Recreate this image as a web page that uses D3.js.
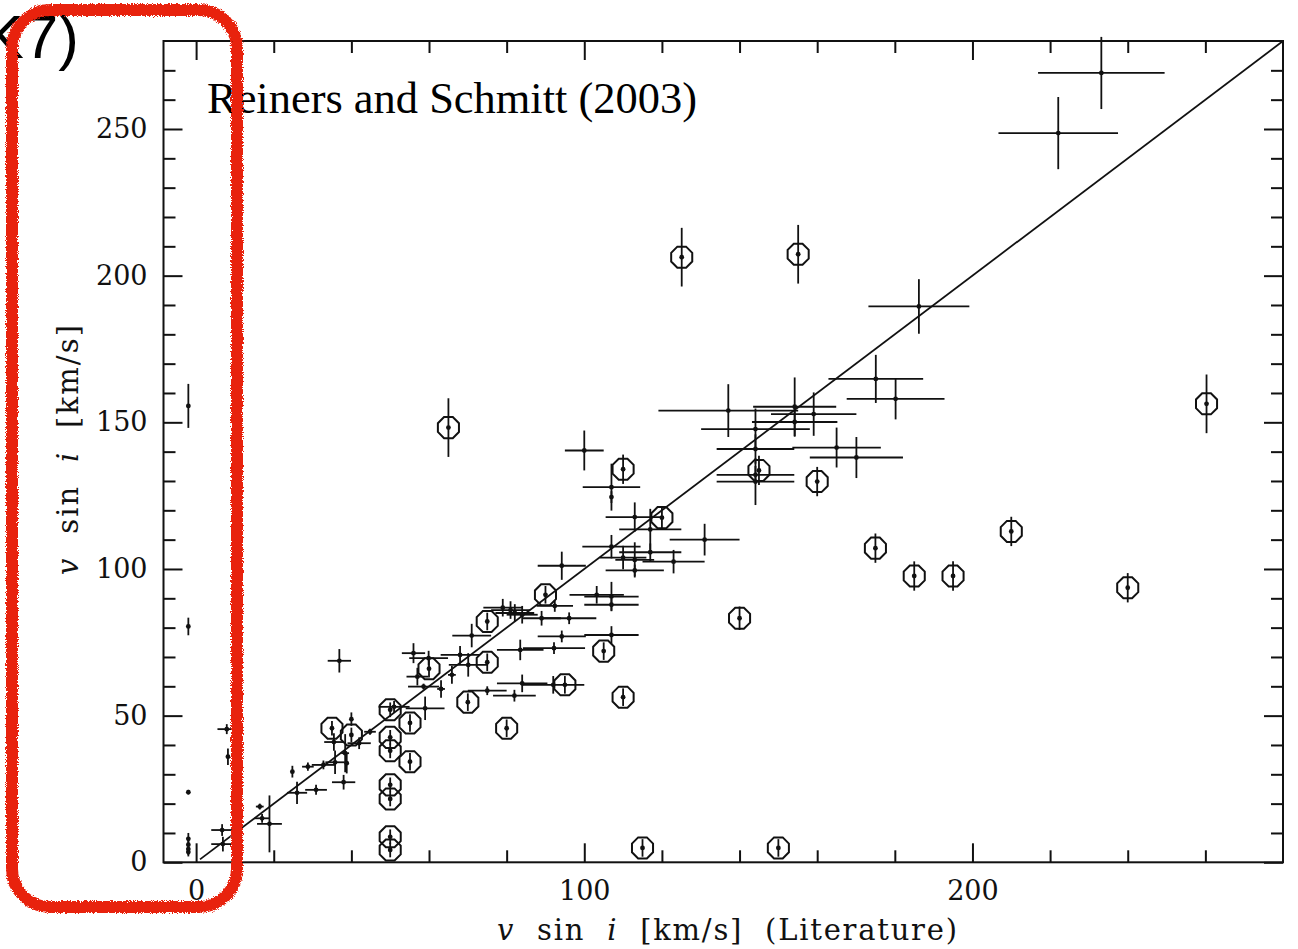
<!DOCTYPE html>
<html>
<head>
<meta charset="utf-8">
<script src="https://cdn.jsdelivr.net/npm/d3@7"></script>
<style>
  body { margin: 0; background: #fff; }
  svg { display: block; }
</style>
</head>
<body>
<div id="chart"></div>
<script>
// crosses: literature vsini (x), measured vsini (y) and their errors
var crossLit = [-2, -2, -2, -2, -2, -2, -2, 7.9, 8.2, 6.7, 6.9, 16.4, 17, 18.9,
  24.8, 26, 28.8, 30.9, 32.8, 35.8, 38, 38.4, 38.8, 40, 35.5, 42, 44.8, 36.9, 51,
  56, 59.9, 57, 58.6, 63.1, 59, 65.9, 68, 70.1, 71, 75, 82, 84, 83.5, 79, 81, 82.1, 84,
  89, 92.4, 94.2, 94.2, 92.2, 96.1, 92, 103.2, 107, 107, 107, 107, 107, 113, 117, 107,
  110, 113, 117, 123, 113, 100, 131, 137.1, 154.2, 159.1, 154.2, 144.1, 144.1, 144.1,
  144.1, 165, 170.1, 180.2, 175.1, 186.2, 233.2, 222.1];
var crossMeas = [155.6, 80.4, 23.9, 8, 6, 4.5, 3.5, 45.4, 36, 11, 6.2, 19, 15, 13.1,
  30.9, 23.7, 32.6, 24.7, 33.2, 34.1, 27.3, 37.2, 33.8, 48.8, 41, 40.6, 44.5, 68.7, 53,
  71.3, 69.6, 63.3, 59.9, 59.1, 52.5, 63.9, 70.7, 67.3, 77.3, 58.5, 56.8, 61, 72.4, 86.8, 86, 85, 84.4,
  83.2, 87.4, 101.1, 77, 73, 83.2, 60.5, 91.2, 90.6, 87.8, 77.5, 127.9, 124.5, 117.7, 113.5, 107.6,
  103.9, 103.1, 105.7, 102.5, 99.5, 140.4, 110, 154, 155.3, 152.8, 150.1, 147.7, 140.9, 129.8,
  132.1, 141.4, 138, 158, 164.8, 189.5, 269.1, 248.6];
var crossLitErr = [0.3, 0.3, 0.3, 0.3, 0.3, 0.3, 0.3, 2.4, 0.5, 2.8, 3, 1, 2, 3.2,
  0.3, 2.6, 1.5, 2.8, 3, 2.5, 3, 1, 0.5, 0.3, 2.5, 3, 1.5, 3, 4,
  3, 5, 2.8, 4, 1, 5, 1, 5, 5, 5, 5, 5.5, 6.5, 6, 5, 5, 5, 4,
  5, 4.7, 6.2, 6.2, 8, 7, 8, 7, 7, 7, 7, 7.4, 0.3, 7.5, 8, 7.5,
  6, 5, 8, 8, 7.5, 5, 9, 18, 10.7, 11, 11, 14, 10, 10,
  10, 11.4, 12, 12.6, 12.2, 13, 16.3, 15.4];
var crossMeasErr = [7.5, 3, 0.8, 2, 2, 2, 1.5, 1.7, 2.8, 2, 2.5, 1, 1.5, 9.7,
  2, 3.8, 1.4, 1.7, 1.5, 4, 2.5, 6.5, 3.5, 2.3, 3, 2, 1, 4, 2,
  3.4, 2.5, 3, 1, 3, 4, 3, 3, 4, 4, 1.5, 2, 3, 3.5, 3, 3, 3, 3,
  2.5, 2, 4.8, 2, 2, 2, 3, 3, 5, 2, 3, 8, 2, 5, 7, 4,
  4, 6, 3, 4, 2, 6.8, 5.4, 9, 10, 7.4, 5, 7, 5, 8,
  3, 6.8, 7, 7, 8.2, 9.3, 12.3, 12.3];

// circled (octagon) stars
var ringLit = [35, 40, 50, 50, 50, 50, 50, 50, 50, 55.1, 55.1, 60, 70, 75, 75, 80, 90, 95,
  105, 110, 110, 120, 115, 65, 125.1, 155.1, 140, 145, 150, 160, 175, 185, 195, 210, 240, 260.3];
var ringMeas = [45.7, 43.4, 52, 42.6, 38, 26.4, 21.6, 8.7, 4.2, 47.5, 34.3, 66, 54.6, 82.1, 68.2, 45.7, 91.2, 60.5,
  72, 56.3, 134, 117.5, 4.9, 148.2, 206.3, 207.3, 83.2, 133.6, 4.9, 129.8, 107.1, 97.6, 97.6, 112.8, 93.6, 156.3];
var ringMeasErr = [2.5, 2.5, 2.5, 2.5, 2.5, 2.5, 2.5, 2.5, 2.5, 3, 3, 3, 3, 3, 3, 3, 3, 3,
  3, 3, 5, 4, 3, 10, 10, 10, 4, 5, 3, 5, 5, 5, 5, 5, 5, 10];

var diagonal = [1, 280];           // one-to-one line
var xMajor = [0, 100, 200];
var xMinor = [20, 40, 60, 80, 120, 140, 160, 180, 220, 240, 260];
var yMajor = [0, 50, 100, 150, 200, 250];
var yMinor = [10, 20, 30, 40, 60, 70, 80, 90, 110, 120, 130, 140, 160, 170, 180, 190, 210, 220, 230, 240, 260, 270];

var W = 1298, H = 949;
var svg = d3.select("#chart").append("svg").attr("width", W).attr("height", H);

var x = d3.scaleLinear().domain([-8.4, 280]).range([163.5, 1283]);
var y = d3.scaleLinear().domain([0, 280]).range([862.3, 41]);

var tickFont = "'DejaVu Serif', serif";

function styleAxis(g) {
  g.select(".domain").remove();
  g.selectAll(".tick line").attr("stroke", "#111").attr("stroke-width", 2);
  g.selectAll(".tick text").attr("fill", "#111").style("font-family", tickFont).style("font-size", "27px");
}

// bottom
svg.append("g").attr("transform", "translate(0," + y(0) + ")")
  .call(d3.axisBottom(x).tickValues(xMajor).tickSize(-19).tickPadding(19).tickFormat(d3.format("d")))
  .call(styleAxis);
svg.append("g").attr("transform", "translate(0," + y(0) + ")")
  .call(d3.axisBottom(x).tickValues(xMinor).tickSize(-12).tickFormat(""))
  .call(styleAxis);
// top
svg.append("g").attr("transform", "translate(0," + y(280) + ")")
  .call(d3.axisTop(x).tickValues(xMajor).tickSize(-19).tickFormat(""))
  .call(styleAxis);
svg.append("g").attr("transform", "translate(0," + y(280) + ")")
  .call(d3.axisTop(x).tickValues(xMinor).tickSize(-12).tickFormat(""))
  .call(styleAxis);
// left
svg.append("g").attr("transform", "translate(" + x.range()[0] + ",0)")
  .call(d3.axisLeft(y).tickValues(yMajor).tickSize(-19).tickPadding(16).tickFormat(d3.format("d")))
  .call(styleAxis);
svg.append("g").attr("transform", "translate(" + x.range()[0] + ",0)")
  .call(d3.axisLeft(y).tickValues(yMinor).tickSize(-12).tickFormat(""))
  .call(styleAxis);
// right
svg.append("g").attr("transform", "translate(" + x.range()[1] + ",0)")
  .call(d3.axisRight(y).tickValues(yMajor).tickSize(-19).tickFormat(""))
  .call(styleAxis);
svg.append("g").attr("transform", "translate(" + x.range()[1] + ",0)")
  .call(d3.axisRight(y).tickValues(yMinor).tickSize(-12).tickFormat(""))
  .call(styleAxis);

// frame
svg.append("rect")
  .attr("x", x.range()[0]).attr("y", y(280))
  .attr("width", x.range()[1] - x.range()[0]).attr("height", y(0) - y(280))
  .attr("fill", "none").attr("stroke", "#111").attr("stroke-width", 2);

// 1:1 line
svg.append("line")
  .attr("x1", x(diagonal[0])).attr("y1", y(diagonal[0]))
  .attr("x2", x(diagonal[1])).attr("y2", y(diagonal[1]))
  .attr("stroke", "#111").attr("stroke-width", 1.8);

var crosses = d3.range(crossLit.length);
var pts = svg.append("g").attr("stroke", "#111").attr("stroke-width", 1.8);

pts.selectAll("line.xe").data(crosses).enter().append("line")
  .attr("class", "xe")
  .attr("x1", function(i) { return x(crossLit[i] - crossLitErr[i]); })
  .attr("x2", function(i) { return x(crossLit[i] + crossLitErr[i]); })
  .attr("y1", function(i) { return y(crossMeas[i]); })
  .attr("y2", function(i) { return y(crossMeas[i]); });
pts.selectAll("line.ye").data(crosses).enter().append("line")
  .attr("class", "ye")
  .attr("x1", function(i) { return x(crossLit[i]); })
  .attr("x2", function(i) { return x(crossLit[i]); })
  .attr("y1", function(i) { return y(crossMeas[i] - crossMeasErr[i]); })
  .attr("y2", function(i) { return y(crossMeas[i] + crossMeasErr[i]); });
pts.selectAll("circle.cd").data(crosses).enter().append("circle")
  .attr("class", "cd")
  .attr("cx", function(i) { return x(crossLit[i]); })
  .attr("cy", function(i) { return y(crossMeas[i]); })
  .attr("r", 2.4).attr("fill", "#111").attr("stroke", "none");

var rings = d3.range(ringLit.length);
var R = 11.4;
var octagon = d3.range(8).map(function(k) {
  var a = Math.PI / 8 + k * Math.PI / 4;
  return [R * Math.cos(a), R * Math.sin(a)];
});
pts.selectAll("line.re").data(rings).enter().append("line")
  .attr("class", "re")
  .attr("x1", function(i) { return x(ringLit[i]); })
  .attr("x2", function(i) { return x(ringLit[i]); })
  .attr("y1", function(i) { return y(ringMeas[i] - ringMeasErr[i]); })
  .attr("y2", function(i) { return y(ringMeas[i] + ringMeasErr[i]); });
pts.selectAll("path.oct").data(rings).enter().append("path")
  .attr("class", "oct")
  .attr("transform", function(i) { return "translate(" + x(ringLit[i]) + "," + y(ringMeas[i]) + ")"; })
  .attr("d", d3.line()(octagon) + "Z")
  .attr("fill", "none").attr("stroke-width", 2);
pts.selectAll("circle.rd").data(rings).enter().append("circle")
  .attr("class", "rd")
  .attr("cx", function(i) { return x(ringLit[i]); })
  .attr("cy", function(i) { return y(ringMeas[i]); })
  .attr("r", 2.4).attr("fill", "#111").attr("stroke", "none");

// axis titles
var xt = svg.append("text")
  .attr("x", 727).attr("y", 940)
  .attr("text-anchor", "middle")
  .attr("textLength", 460).attr("lengthAdjust", "spacing")
  .style("font-family", tickFont).style("font-size", "29px").attr("fill", "#111");
xt.append("tspan").style("font-style", "italic").text("v");
xt.append("tspan").text("\u00a0\u00a0sin\u00a0\u00a0");
xt.append("tspan").style("font-style", "italic").text("i");
xt.append("tspan").text("\u00a0\u00a0[km/s]\u00a0\u00a0(Literature)");

var yt = svg.append("text")
  .attr("transform", "translate(78,450) rotate(-90)")
  .attr("text-anchor", "middle")
  .attr("textLength", 250).attr("lengthAdjust", "spacing")
  .style("font-family", tickFont).style("font-size", "29px").attr("fill", "#111");
yt.append("tspan").style("font-style", "italic").text("v");
yt.append("tspan").text("\u00a0\u00a0sin\u00a0\u00a0");
yt.append("tspan").style("font-style", "italic").text("i");
yt.append("tspan").text("\u00a0\u00a0[km/s]");

svg.append("text")
  .attr("x", 207).attr("y", 113)
  .attr("textLength", 490).attr("lengthAdjust", "spacingAndGlyphs")
  .style("font-family", "'Liberation Serif', 'Times New Roman', serif")
  .style("font-size", "44px").attr("fill", "#000")
  .text("Reiners and Schmitt (2003)");

// slide label cut off at the left edge
svg.append("text")
  .attr("x", 79).attr("y", 58)
  .attr("text-anchor", "end")
  .style("font-family", "'Liberation Sans', Arial, sans-serif")
  .style("font-size", "62px").attr("fill", "#000")
  .text("K7)");

// hand-drawn red highlight
var defs = svg.append("defs");
var f = defs.append("filter").attr("id", "rough")
  .attr("x", "-5%").attr("y", "-5%").attr("width", "110%").attr("height", "110%");
f.append("feTurbulence").attr("type", "fractalNoise").attr("baseFrequency", 1.2)
  .attr("numOctaves", 3).attr("seed", 5).attr("result", "noise");
f.append("feDisplacementMap").attr("in", "SourceGraphic").attr("in2", "noise")
  .attr("scale", 5).attr("xChannelSelector", "R").attr("yChannelSelector", "G");

svg.append("rect")
  .attr("x", 12).attr("y", 10).attr("width", 225).attr("height", 897)
  .attr("rx", 38).attr("ry", 38)
  .attr("fill", "none").attr("stroke", "#e8230f").attr("stroke-width", 12)
  .attr("filter", "url(#rough)");
</script>
</body>
</html>
